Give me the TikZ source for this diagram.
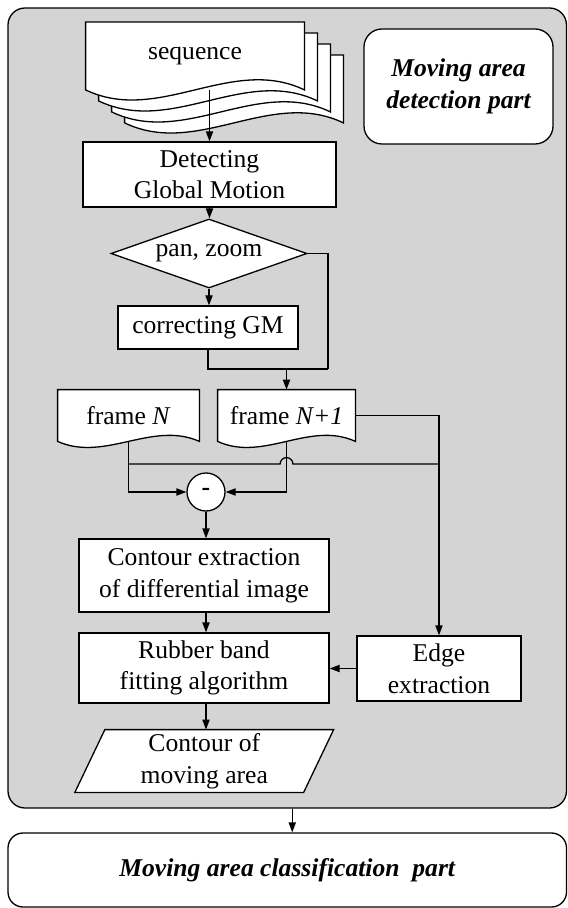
\documentclass[tikz,border=0pt]{standalone}
\usepackage{fontspec}
\setmainfont{Liberation Serif}
\usetikzlibrary{arrows.meta, calc, backgrounds, shapes.geometric}

\definecolor{panelgray}{RGB}{212,212,212}
\newcommand\boxfont{\fontsize{12.8}{15.8}\selectfont}
\newcommand\docpath[3]{%
  \path (#1.north west) ++(#3) coordinate (dnw)
        (#1.south east) ++(#3) coordinate (dse)
        (dnw |- dse) coordinate (dsw);
  \draw[sheet] (dnw) -| (dse)
    .. controls ($(dse)!1/3!(dsw)+(0,-#2)$) and ($(dse)!2/3!(dsw)+(0,#2)$) .. (dsw) -- cycle;}

\begin{document}
\begin{tikzpicture}[x=0.5pt, y=-0.5pt,
    box/.style={draw, fill=white, line width=0.65pt, inner sep=0pt, align=center, font=\boxfont},
    doctext/.style={inner sep=0pt, align=center, font=\boxfont},
    sheet/.style={draw, fill=white, line width=0.65pt},
    flow/.style={line width=0.65pt, -{Triangle[length=5pt, width=3.6pt]}},
    link/.style={line width=0.65pt}]

    \useasboundingbox (0,0) rectangle (567,908);

    \node[doctext, minimum width=109pt, minimum height=33.5pt] (seq) at (195,56) {sequence};
    \node[box, rounded corners=9pt, minimum width=94.5pt, minimum height=57.5pt,
        font=\boxfont\bfseries\itshape] (part) at (458.5,86.5) {Moving area\\detection part};
    \node[box, minimum width=126.5pt, minimum height=32.5pt] (detect) at (209.5,174.5) {Detecting\\Global Motion};
    \node[box, diamond, shape aspect=2.8, minimum width=98pt, minimum height=34.5pt] (dia) at (209,253.5) {pan, zoom};
    \node[box, minimum width=90pt, minimum height=21.5pt] (correct) at (208,327.5) {correcting GM};
    \node[doctext, minimum width=70.5pt, minimum height=25.5pt] (fr0) at (128.5,415.5) {frame \textit{N}};
    \node[doctext, minimum width=68.5pt, minimum height=25.5pt] (fr1) at (286.5,415.5) {frame \textit{N+1}};
    \node[box, circle, minimum size=19pt] (minus) at (206,492) {\textbf{-}};
    \node[box, minimum width=125pt, minimum height=36.5pt] (contour) at (204,575.5) {Contour extraction\\of differential image};
    \node[box, minimum width=125pt, minimum height=35pt] (rubber) at (204,668) {Rubber band\\fitting algorithm};
    \node[box, minimum width=82pt, minimum height=32.5pt] (edge) at (439,668.5) {Edge\\extraction};
    \node[doctext, minimum width=114pt, minimum height=31pt] (out) at (204.25,761) {Contour of\\moving area};
    \node[box, rounded corners=7.5pt, minimum width=279.25pt, minimum height=37pt,
        font=\boxfont\bfseries\itshape] (classify) at (287.25,870) {Moving area classification\ \ part};

    \begin{scope}[on background layer]
        \node[draw, fill=panelgray, line width=0.65pt, rounded corners=8.5pt,
            minimum width=279.25pt, minimum height=400pt] (panel) at (287.25,408) {};
        \foreach \k in {3,2,1} {\docpath{seq}{35}{13*\k,11*\k}}
        \docpath{seq}{35}{0,0}
        \docpath{fr0}{21}{0,0}
        \docpath{fr1}{21}{0,0}
        \draw[sheet] ($(out.north west)+(15,0)$) -- ($(out.north east)+(15,0)$)
            -- ($(out.south east)+(-15,0)$) -- ($(out.south west)+(-15,0)$) -- cycle;
    \end{scope}

    \draw[flow] (seq.south -| detect.north) -- (detect.north);
    \draw[flow] (detect.south) -- (detect.south |- dia.north);
    \draw[flow] (dia.south) -- (dia.south |- correct.north);
    \coordinate (merge) at (328,369);
    \draw[link] (dia.east) -| (merge);
    \draw[link] (correct.south) |- (merge);
    \draw[flow] (fr1.north |- merge) -- (fr1.north);
    \draw[flow] (fr0.south) |- (minus.west);
    \draw[flow] (fr1.south) |- (minus.east);
    \coordinate (bus) at (128.5,464);
    \draw[link] (bus) -- ($(bus -| fr1.south)+(-6.4,0)$)
        arc[start angle=180, end angle=0, radius=3.2pt] -- (bus -| edge.north);
    \draw[flow] (fr1.east) -| (edge.north);
    \draw[flow] (minus.south) -- (minus.south |- contour.north);
    \draw[flow] (minus.south |- contour.south) -- (minus.south |- rubber.north);
    \draw[flow] (edge.west) -- (edge.west -| rubber.east);
    \draw[flow] (minus.south |- rubber.south) -- (minus.south |- out.north);
    \draw[flow] ([xshift=2.5pt]panel.south) -- ([xshift=2.5pt]panel.south |- classify.north);
\end{tikzpicture}
\end{document}
